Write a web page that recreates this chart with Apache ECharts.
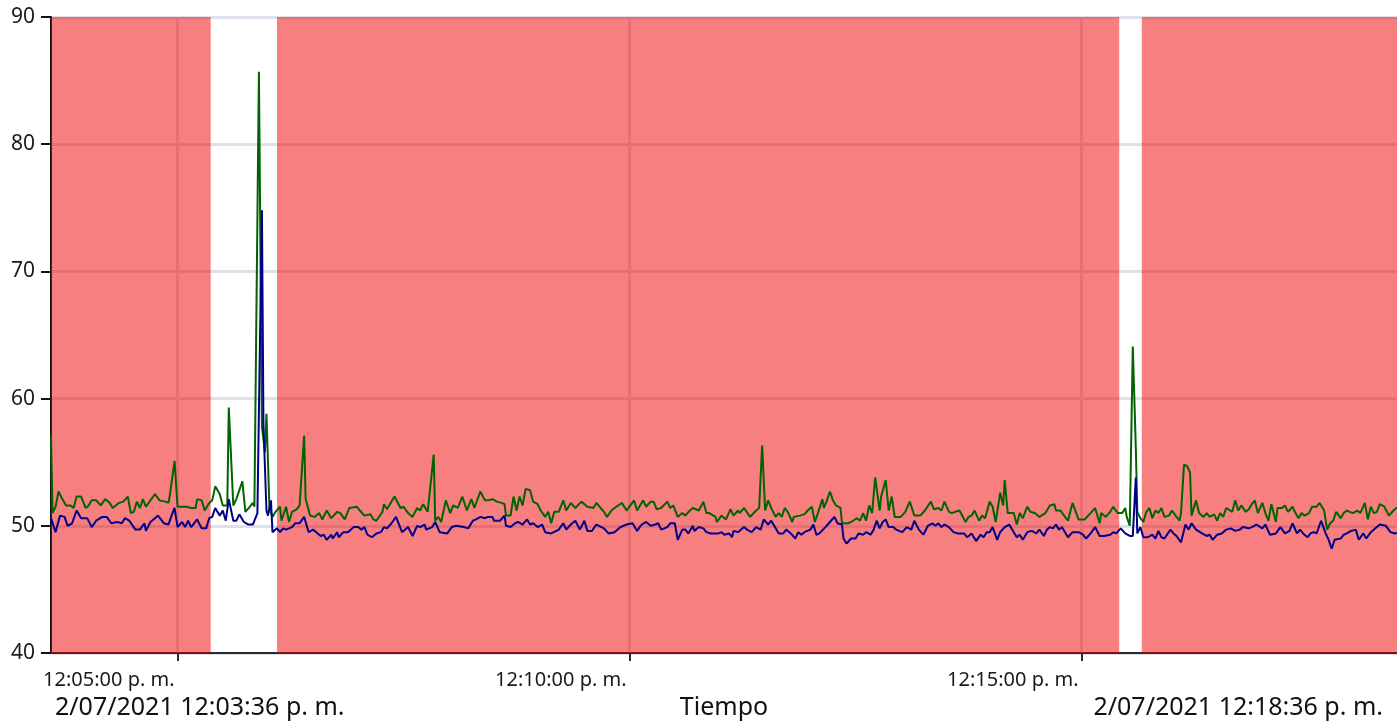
<!DOCTYPE html>
<html>
<head>
<meta charset="utf-8">
<title>Tiempo</title>
<script src="https://cdn.jsdelivr.net/npm/echarts@6/dist/echarts.min.js"></script>
<style>
  html, body { margin: 0; padding: 0; background: #ffffff; }
  #chart { width: 1397px; height: 722px; }
</style>
</head>
<body>
<div id="chart"></div>
<script>
// Recording window: 2/07/2021 12:03:36 p. m. to 12:18:36 p. m. (900 s)
const startTime = new Date(2021, 6, 2, 12, 3, 36).getTime();
const spanSeconds = 900;

// Clock ticks (seconds after start): 12:05:00, 12:10:00, 12:15:00
const tickSecs = [84, 384, 684];

// Y axis range
const yMin = 40;
const yMax = 90;
const yStep = 10;

// Out-of-range periods (seconds after start), shaded red
const alarmStart = [0, 150, 724];
const alarmEnd = [106, 709, 900];

// Upper trace (green): seconds after start and values
const greenSecs = [0,1,3,5,8,10,13,15,17,20,23,25,27,30,33,36,39,41,45,48,51,53,55,57,59,61,63,66,69,72,76,78,79,82,84,87,90,93,96,97,100,102,105,
  107,109,112,114,117,118,121,123,127,129,132,134,135,138,140,142,143,145,147,149,152,153,156,158,160,163,165,168,169,172,175,178,
  180,183,186,190,192,195,198,203,205,208,212,214,216,220,221,223,228,232,234,237,240,243,245,247,250,254,255,257,259,262,265,267,270,273,276,279,281,285,288,290,293,296,299,301,302,305,307,309,311,313,315,318,320,323,325,328,330,332,334,337,340,342,345,348,352,356,360,362,367,369,372,374,379,382,387,389,393,395,
  398,400,402,405,409,411,413,416,419,421,424,426,430,433,435,437,441,442,445,448,451,453,456,457,460,464,468,470,472,474,476,478,481,483,485,487,489,492,493,497,500,503,505,507,509,512,513,515,517,519,521,524,525,529,531,535,537,539,541,543,545,547,550,551,554,556,558,560,564,567,570,573,577,580,584,586,589,591,593,596,598,600,603,607,609,611,613,616,618,620,623,
  625,627,630,632,633,635,639,641,643,645,648,650,653,656,660,663,666,667,670,673,675,678,682,686,690,693,696,697,700,703,705,708,711,713,714,716,718,720,721,723,725,727,729,731,733,735,737,739,742,744,747,749,750,752,754,756,757,760,762,765,767,769,772,774,776,778,780,784,786,788,790,793,795,797,799,801,804,806,808,810,813,814,817,819,821,824,826,828,830,832,835,837,840,842,845,847,849,851,853,856,858,860,862,864,867,869,872,874,876,878,880,882,885,888,891,893,897,900];
const greenVals = [57.1,51.0,51.5,52.7,52.0,51.6,51.6,51.4,52.3,52.3,51.4,51.6,52.0,52.0,51.6,52.1,51.8,51.4,51.8,51.9,52.3,51.0,51.1,51.9,51.4,52.1,51.5,52.0,52.5,52.0,51.9,51.8,52.5,55.1,51.5,51.5,51.5,51.4,51.4,52.1,52.0,51.2,51.8,
  52.0,53.1,52.5,51.6,51.6,59.3,51.6,52.1,53.5,51.1,51.5,51.8,51.5,85.7,57.8,55.8,58.8,51.4,50.7,51.1,51.5,50.4,51.5,50.3,51.1,51.3,51.6,57.1,52.1,50.8,50.7,51.0,
  50.5,51.2,50.6,51.1,51.0,50.5,51.4,51.5,51.2,50.8,50.9,50.5,50.4,51.1,51.7,51.3,52.3,51.4,51.5,51.0,50.7,51.4,51.2,51.7,51.1,55.6,50.4,50.7,50.3,52.0,51.0,51.6,51.4,52.3,51.2,52.1,51.4,52.7,52.0,52.0,52.1,51.9,51.8,51.7,50.8,50.8,52.3,51.2,52.3,51.6,52.9,52.8,51.9,51.7,51.2,50.7,51.1,50.2,51.1,51.1,52.0,51.2,51.8,51.4,51.9,51.5,51.4,51.8,51.1,50.7,51.2,51.4,51.8,51.2,52.0,51.2,52.0,51.5,
  51.9,51.9,51.3,51.4,51.9,51.4,51.6,50.7,51.0,50.8,51.2,51.4,51.2,51.9,51.0,51.0,50.7,50.3,50.8,50.5,51.3,50.8,51.2,51.0,51.4,50.7,51.2,51.4,56.3,51.2,52.0,51.4,50.7,51.0,50.7,51.4,51.1,50.3,50.7,50.8,50.9,51.3,51.5,50.3,51.0,52.1,51.4,52.0,52.7,52.0,51.6,51.4,50.2,50.2,50.3,50.6,50.4,51.0,50.4,51.6,51.0,53.8,51.2,52.3,53.6,51.2,52.3,50.7,50.7,51.1,51.9,50.8,50.8,51.2,51.9,51.3,51.4,51.2,51.9,51.1,51.0,51.1,51.2,50.3,50.7,50.8,51.2,50.4,50.8,50.6,51.9,
  51.5,50.3,52.6,51.6,53.6,51.0,51.0,50.1,51.0,50.6,51.5,51.1,51.0,50.7,51.0,51.6,51.7,51.2,51.2,50.7,50.4,51.8,50.5,50.5,51.0,51.4,50.2,51.0,50.7,51.1,51.5,51.0,51.0,51.4,50.7,50.0,64.1,56.2,51.1,50.6,50.3,51.1,51.4,50.6,51.2,51.0,51.4,50.7,50.8,51.2,50.7,50.4,51.0,54.8,54.7,54.2,50.8,52.0,51.0,50.7,51.0,50.7,50.9,50.4,51.0,50.7,51.4,51.1,52.0,51.2,51.6,51.1,51.3,51.7,52.0,51.0,51.8,51.0,50.4,51.7,50.3,51.4,51.4,51.6,51.1,51.5,51.0,50.6,51.0,50.8,51.0,51.5,51.5,51.8,51.2,49.7,50.2,50.4,51.1,50.6,51.0,51.2,51.1,51.0,51.2,51.0,51.8,50.5,51.5,51.0,51.1,51.7,51.5,50.8,51.2,51.4,51.3,51.2];

// Lower trace (blue): seconds after start and values
const blueSecs = [0,3,6,9,11,14,17,20,24,27,30,34,37,40,44,47,49,52,56,59,62,63,66,69,71,75,78,80,82,84,87,89,91,93,97,100,103,105,
  107,109,112,114,116,118,121,123,125,128,131,134,137,140,141,143,144,146,147,150,152,154,156,160,162,165,168,171,174,177,
  179,181,183,186,187,190,191,194,197,201,204,206,208,210,211,213,216,219,221,223,226,229,233,237,240,243,245,248,249,253,255,258,263,266,269,274,277,280,282,285,288,290,293,294,298,301,302,305,308,310,313,316,318,320,323,326,328,332,337,340,342,345,348,351,354,356,359,362,367,370,374,378,382,386,389,392,395,
  398,401,403,405,409,411,414,416,419,421,423,426,427,430,433,435,438,443,445,447,450,452,453,456,460,462,465,468,471,473,476,478,481,483,486,488,491,494,496,498,500,504,506,508,510,514,517,520,522,525,526,528,531,534,536,539,541,544,546,548,550,552,554,556,559,561,565,568,571,573,576,579,582,585,587,589,591,593,596,599,602,606,608,611,614,617,619,621,
  623,625,628,630,633,636,639,641,643,645,648,651,654,656,659,661,663,665,667,669,671,673,675,678,682,685,687,690,693,696,699,703,705,707,710,713,716,718,720,721,723,725,728,731,733,735,737,739,743,745,747,750,753,755,757,760,764,767,769,771,774,777,780,783,786,789,791,795,797,800,804,806,809,813,816,819,822,824,827,829,831,834,836,838,840,843,846,848,850,852,856,858,860,863,866,868,871,873,876,879,882,886,889,892,896,900];
const blueVals = [50.6,49.5,50.8,50.7,50.0,50.2,51.2,50.6,50.6,49.9,50.4,50.7,50.7,50.2,50.3,50.2,50.6,50.4,49.7,49.7,50.2,49.6,50.3,50.6,50.8,50.2,50.1,50.8,51.4,49.9,50.3,49.9,50.4,49.9,50.5,49.8,49.8,50.6,
  50.7,51.4,50.8,51.2,50.4,52.1,50.4,50.4,50.9,50.3,50.1,50.1,51.0,74.8,58.0,51.2,50.8,52.0,49.5,49.8,49.5,49.8,49.7,49.9,50.2,50.2,50.7,49.5,49.7,49.4,
  49.2,49.3,48.9,49.3,49.0,49.5,49.1,49.5,49.5,49.9,49.9,49.7,49.9,49.3,49.4,49.1,49.4,49.5,49.9,49.8,50.2,50.7,49.5,49.9,49.2,50.0,49.9,50.1,49.7,49.9,50.3,49.5,49.4,49.9,50.0,49.9,49.8,50.4,50.5,50.7,50.6,50.7,50.7,50.4,50.4,50.8,50.0,49.9,50.2,50.3,50.1,50.5,50.1,50.2,49.9,50.1,49.5,49.4,49.7,50.2,49.7,50.1,50.4,49.7,50.4,49.6,49.6,50.1,49.8,49.4,49.5,49.9,50.1,50.2,49.6,50.1,50.3,
  50.0,50.1,50.2,49.7,49.9,50.2,50.2,48.9,49.7,49.7,49.4,50.0,49.6,49.9,49.8,49.5,49.4,49.4,49.5,49.3,49.4,49.1,49.6,49.5,49.9,49.7,49.5,49.9,49.7,50.5,50.1,50.4,49.8,49.4,49.4,49.7,49.4,49.0,49.5,49.3,49.5,49.7,50.1,49.3,49.4,49.9,50.3,50.7,50.2,50.1,49.0,48.6,49.0,49.0,49.4,49.3,49.5,49.3,49.7,50.4,49.8,50.3,50.5,49.9,49.9,49.7,49.5,49.9,49.7,50.4,49.7,49.3,50.0,50.2,50.0,50.2,49.9,50.1,49.9,49.5,49.4,49.4,49.1,49.4,48.8,49.3,49.1,49.5,
  49.5,49.9,48.9,49.5,49.9,50.1,49.5,49.1,49.3,48.9,49.5,49.6,49.4,49.7,49.2,49.7,49.9,49.8,50.1,49.7,49.9,49.5,49.1,49.5,49.5,49.3,49.0,49.4,49.9,49.2,49.2,49.3,49.5,49.4,49.8,49.4,49.2,49.2,53.8,49.4,49.9,49.1,49.1,49.3,49.0,49.6,49.1,49.0,49.7,49.4,49.2,48.7,50.1,49.7,50.2,49.7,49.4,49.2,49.3,48.9,49.3,49.4,49.7,49.8,49.6,49.7,49.9,49.8,49.9,50.1,49.8,50.1,49.3,49.4,49.9,49.4,49.6,50.2,49.4,49.7,49.4,49.1,49.4,49.5,49.4,50.4,49.4,48.9,48.2,48.9,49.0,49.3,49.4,49.6,49.7,48.9,49.4,49.0,49.5,49.8,50.1,50.0,49.5,49.4,49.5,49.6];

const FONT = '"Noto Sans", "DejaVu Sans", sans-serif';
const GRID_COLOR = '#dde1ea';

function toPairs(secs, vals) {
  return secs.map((s, i) => [s, vals[i]]);
}

function pad2(n) { return (n < 10 ? '0' : '') + n; }

// "12:05:00 p. m." style clock text for an offset in seconds
function clockText(sec) {
  const d = new Date(startTime + sec * 1000);
  let h = d.getHours();
  const suffix = h >= 12 ? 'p. m.' : 'a. m.';
  h = h % 12; if (h === 0) h = 12;
  return h + ':' + pad2(d.getMinutes()) + ':' + pad2(d.getSeconds()) + ' ' + suffix;
}

function dateText(sec) {
  const d = new Date(startTime + sec * 1000);
  return d.getDate() + '/' + pad2(d.getMonth() + 1) + '/' + d.getFullYear() + ' ' + clockText(sec);
}

const bands = alarmStart.map((s, i) => [{ xAxis: s }, { xAxis: alarmEnd[i] }]);
const clockLines = tickSecs.map((s) => ({ xAxis: s }));

const chart = echarts.init(document.getElementById('chart'), null, { renderer: 'canvas' });

chart.setOption({
  animation: false,
  backgroundColor: '#ffffff',
  grid: { left: 51, top: 17, right: -10, bottom: 69, containLabel: false, outerBoundsMode: 'none' },
  xAxis: {
    type: 'value',
    min: 0,
    max: spanSeconds,
    axisLine: { show: true, onZero: false, lineStyle: { color: '#2b2b2b', width: 2 } },
    axisTick: { show: true, length: 8, customValues: tickSecs, lineStyle: { color: '#2b2b2b', width: 2 } },
    axisLabel: {
      show: true,
      customValues: tickSecs,
      align: 'right',
      margin: 17,
      padding: [0, 3, 0, 0],
      color: '#1a1a1a',
      fontFamily: FONT,
      fontSize: 20,
      hideOverlap: false,
      formatter: (v) => clockText(v)
    },
    splitLine: { show: false }
  },
  yAxis: {
    type: 'value',
    min: yMin,
    max: yMax,
    interval: yStep,
    axisLine: { show: true, lineStyle: { color: '#111111', width: 2 } },
    axisTick: { show: true, length: 10, lineStyle: { color: '#111111', width: 2 } },
    axisLabel: { margin: 16, color: '#1a1a1a', fontFamily: FONT, fontSize: 21 },
    splitLine: { show: true, lineStyle: { color: GRID_COLOR, width: 3 } }
  },
  graphic: [
    { type: 'text', x: 55, y: 708, style: { text: dateText(0), font: '25px ' + FONT, fill: '#111111', align: 'left', verticalAlign: 'middle' } },
    { type: 'text', x: 1383, y: 708, style: { text: dateText(spanSeconds), font: '25px ' + FONT, fill: '#111111', align: 'right', verticalAlign: 'middle' } },
    { type: 'text', x: 724, y: 708, style: { text: 'Tiempo', font: '25px ' + FONT, fill: '#111111', align: 'center', verticalAlign: 'middle' } }
  ],
  series: [
    {
      name: 'Reloj',
      type: 'line',
      data: [],
      z: 1,
      markLine: {
        silent: true,
        z: 0,
        symbol: ['none', 'none'],
        label: { show: false },
        lineStyle: { color: GRID_COLOR, width: 3, type: 'solid' },
        data: clockLines
      }
    },
    {
      name: 'Fuera de rango',
      type: 'line',
      data: [],
      z: 2,
      markArea: {
        silent: true,
        z: 1,
        itemStyle: { color: 'rgba(240, 0, 0, 0.5)' },
        data: bands
      }
    },
    {
      name: 'Máximo',
      type: 'line',
      data: toPairs(greenSecs, greenVals),
      showSymbol: false,
      z: 3,
      lineStyle: { color: '#006400', width: 2 },
      itemStyle: { color: '#006400' }
    },
    {
      name: 'Promedio',
      type: 'line',
      data: toPairs(blueSecs, blueVals),
      showSymbol: false,
      z: 4,
      lineStyle: { color: '#00008b', width: 2 },
      itemStyle: { color: '#00008b' }
    }
  ]
});
</script>
</body>
</html>
